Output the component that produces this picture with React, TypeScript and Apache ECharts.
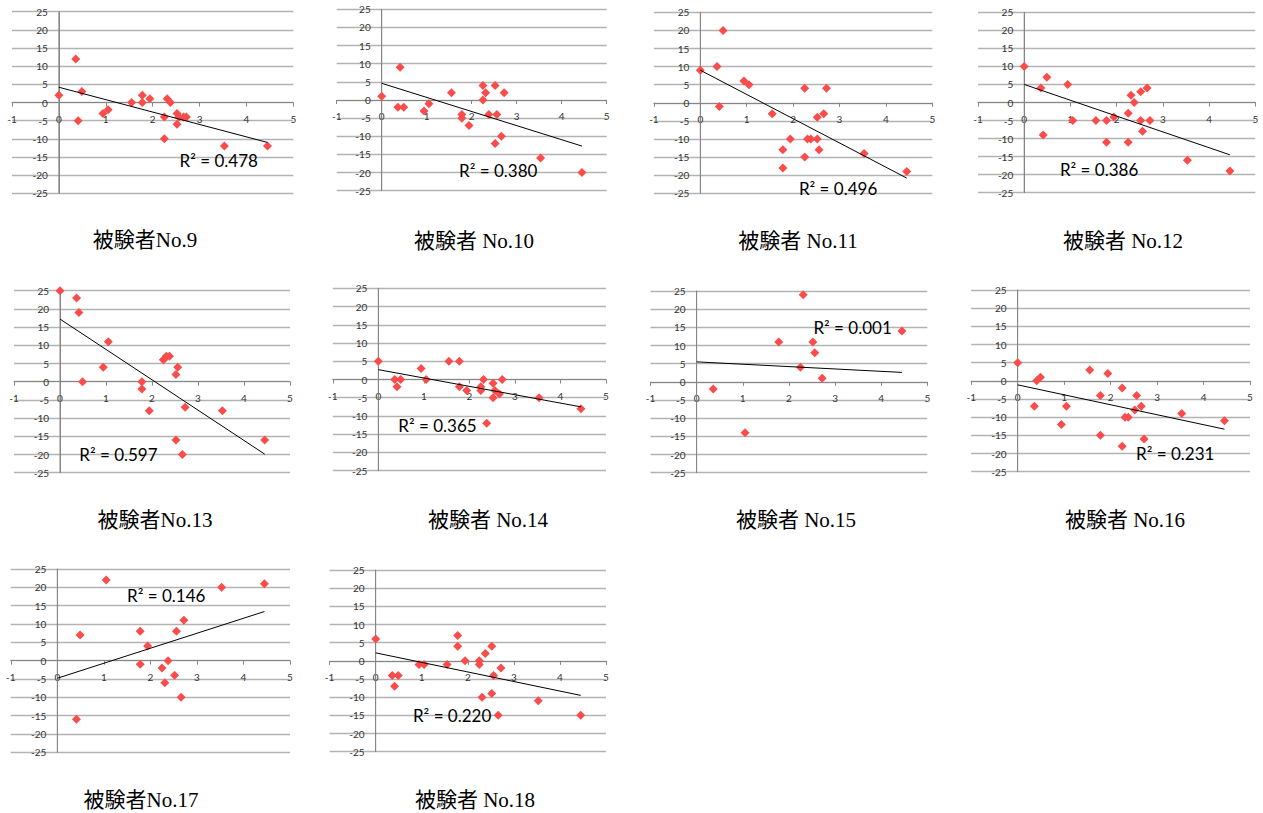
import React, { useEffect, useRef } from "react";
import * as echarts from "echarts";

// ---- data ----
const X_VALUES = [0, 0.36, 0.41, 0.49, 0.94, 1.05, 1.55, 1.78, 1.78, 1.94, 2.25, 2.25, 2.31, 2.38, 2.52, 2.52, 2.56, 2.66, 2.72, 3.53, 4.45];

const SUBJECT_TITLES = [
  "被験者No.9", "被験者 No.10", "被験者 No.11", "被験者 No.12",
  "被験者No.13", "被験者 No.14", "被験者 No.15", "被験者 No.16",
  "被験者No.17", "被験者 No.18",
];

const Y_NO9 = [2, 12, -5, 3, -3, -2, 0, 2, 0, 1, -4, -10, 1, 0, -6, -3, -4, -4, -4, -12, -12];
const Y_NO10 = [1, -2, 9, -2, -3, -1, 2, -4, -5, -7, 4, 0, 2, -4, 4, -12, -4, -10, 2, -16, -20];
const Y_NO11 = [9, 10, -1, 20, 6, 5, -3, -13, -18, -10, 4, -15, -10, -10, -4, -10, -13, -3, 4, -14, -19];
const Y_NO12 = [10, 4, -9, 7, 5, -5, -5, -5, -11, -4, -3, -11, 2, 0, 3, -5, -8, 4, -5, -16, -19];
const Y_NO13 = [25, 23, 19, 0, 4, 11, null, 0, -2, -8, 6, 6, 7, 7, -16, 2, 4, -20, -7, -8, -16];
const Y_NO14 = [5, 0, -2, 0, 3, 0, 5, 5, -2, -3, -3, -2, 0, -12, -5, -1, -3, -4, 0, -5, -8];
const Y_NO15 = [null, -2, null, null, null, -14, null, 11, null, null, 4, null, 24, null, 11, null, 8, null, 1, null, 14];
const Y_NO16 = [5, -7, 0, 1, -12, -7, 3, -4, -15, 2, -2, -18, -10, -10, -8, null, -4, -7, -16, -9, -11];
const Y_NO17 = [null, null, -16, 7, null, 22, null, 8, -1, 4, -2, null, -6, 0, -4, null, 8, -10, 11, 20, 21];
const Y_NO18 = [6, -4, -7, -4, -1, -1, -1, 7, 4, 0, 0, -1, -10, 2, 4, -9, -4, -15, -2, -11, -15];

const Y_SERIES = [Y_NO9, Y_NO10, Y_NO11, Y_NO12, Y_NO13, Y_NO14, Y_NO15, Y_NO16, Y_NO17, Y_NO18];

const R2_TEXT = ["0.478", "0.380", "0.496", "0.386", "0.597", "0.365", "0.001", "0.231", "0.146", "0.220"];

// trendline value at x = 0 and at the largest x
const TREND_START = [4.2, 4.6, 9.0, 5.0, 17.2, 2.7, 5.5, -1.1, -4.8, 2.2];
const TREND_END = [-11.0, -12.7, -20.8, -14.5, -19.9, -7.5, 2.6, -13.3, 13.4, -9.5];

const Y_MIN = -25;
const Y_MAX = 25;

// ---- layout (pixels) ----
// left (x=-1), right (x=5), top (y=25), bottom (y=-25)
const PANELS = [
  [12, 293.3, 11.7, 193.3],
  [336.7, 606.7, 9.3, 190.7],
  [653.9, 932.3, 12.3, 193.3],
  [978, 1255.3, 12.3, 192.7],
  [14, 290, 290.7, 472.7],
  [332.8, 606, 288.3, 470.7],
  [650.5, 927.3, 291, 472.7],
  [971.2, 1250, 290, 471.7],
  [10.8, 290, 569, 752.3],
  [329.6, 606, 570, 751.7],
];
// R² label centre, in data coordinates of each panel
const R2_ANCHOR = [
  [3.41, -16.1], [2.59, -19.5], [2.97, -23.7], [1.62, -18.5], [1.27, -20.1],
  [1.3, -12.5], [3.38, 15], [3.39, -20], [2.34, 17.9], [1.66, -15],
];
const TITLE_POS = [
  [145, 240], [474, 241], [798, 241], [1123, 241],
  [155, 520], [488, 520], [796, 520], [1125, 520],
  [141, 800], [475, 800],
];

const AXIS_COLOR = "#868686";
const GRID_COLOR = "#b3b3b3";
const LABEL_FONT = "Lato, 'Liberation Sans', sans-serif";

export default function App() {
  const ref = useRef<HTMLDivElement>(null);

  useEffect(() => {
    document.body.style.margin = "0";
    if (!ref.current) return;
    const chart = echarts.init(ref.current, undefined, { renderer: "svg" });
    const xMax = Math.max(...X_VALUES);

    const grids: any[] = [];
    const xAxes: any[] = [];
    const yAxes: any[] = [];
    const series: any[] = [];

    PANELS.forEach(([l, r, t, b], i) => {
      const w = r - l;
      const h = b - t;
      grids.push({ left: l, top: t, width: w, height: h, containLabel: false });
      xAxes.push({
        gridIndex: i,
        type: "value",
        position: "bottom",
        min: -1,
        max: 5,
        interval: 1,
        axisLine: { show: true, onZero: true, lineStyle: { color: AXIS_COLOR, width: 1 } },
        axisTick: { show: true, length: 4, lineStyle: { color: AXIS_COLOR } },
        // labels sit just below the y = 0 line (the middle of the plot)
        axisLabel: { fontSize: 10, color: "#333", margin: 11 - h / 2, fontFamily: LABEL_FONT },
        splitLine: { show: false },
      });
      yAxes.push({
        gridIndex: i,
        type: "value",
        position: "left",
        min: Y_MIN,
        max: Y_MAX,
        interval: 5,
        axisLine: { show: true, onZero: true, lineStyle: { color: AXIS_COLOR, width: 1 } },
        axisTick: { show: false },
        // labels sit just left of the x = 0 line
        axisLabel: { fontSize: 10, color: "#333", margin: 11 - w / 6, fontFamily: LABEL_FONT },
        splitLine: { show: true, lineStyle: { color: GRID_COLOR, width: 1.3 } },
      });
      // vertical value axis drawn where x = 0
      series.push({
        type: "line",
        xAxisIndex: i,
        yAxisIndex: i,
        showSymbol: false,
        symbol: "none",
        lineStyle: { color: AXIS_COLOR, width: 1 },
        data: [[0, Y_MIN], [0, Y_MAX]],
        silent: true,
        z: 1,
      });
      const ys = Y_SERIES[i];
      const pts = X_VALUES.map((x, k) => (ys[k] == null ? null : [x, ys[k]])).filter((p) => p != null);
      series.push({
        type: "scatter",
        xAxisIndex: i,
        yAxisIndex: i,
        symbol: "diamond",
        symbolSize: [9, 9],
        itemStyle: { color: "#fb4c4c", opacity: 1 },
        data: pts,
        silent: true,
        z: 3,
      });
      series.push({
        type: "line",
        xAxisIndex: i,
        yAxisIndex: i,
        showSymbol: false,
        symbol: "none",
        lineStyle: { color: "#000", width: 1 },
        data: [[0, TREND_START[i]], [xMax, TREND_END[i]]],
        silent: true,
        z: 4,
      });
    });

    chart.setOption({
      animation: false,
      backgroundColor: "#fff",
      grid: grids,
      xAxis: xAxes,
      yAxis: yAxes,
      series,
    });

    const graphics: any[] = [];
    R2_ANCHOR.forEach((a, i) => {
      const p = chart.convertToPixel({ gridIndex: i } as any, a) as number[];
      graphics.push({
        type: "text",
        x: p[0],
        y: p[1],
        z: 10,
        style: {
          text: "R² = " + R2_TEXT[i],
          fontSize: 17,
          fontFamily: LABEL_FONT,
          fill: "#000",
          align: "center",
          verticalAlign: "middle",
        },
      });
    });
    TITLE_POS.forEach((p, i) => {
      graphics.push({
        type: "text",
        x: p[0],
        y: p[1],
        style: {
          text: SUBJECT_TITLES[i],
          fontSize: 21,
          fontFamily: "'Liberation Serif', 'Noto Sans CJK JP', serif",
          fill: "#000",
          align: "center",
          verticalAlign: "middle",
        },
      });
    });
    chart.setOption({ graphic: graphics });

    return () => chart.dispose();
  }, []);

  return <div ref={ref} style={{ width: 1263, height: 813 }} />;
}
